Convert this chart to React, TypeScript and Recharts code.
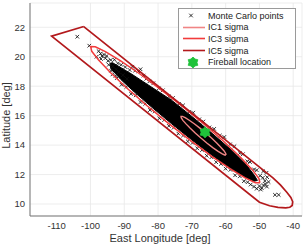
import { ScatterChart, Scatter, XAxis, YAxis, CartesianGrid, Legend, Label } from 'recharts';

const xTicks = [-110, -100, -90, -80, -70, -60, -50, -40];
const yTicks = [10, 12, 14, 16, 18, 20, 22];

// Monte Carlo samples: outliers and the fuzzy fringe of the cloud
const monteCarloPoints: [number, number][] = [
  [-103.9, 21.36], [-100.35, 20.75], [-98.2, 20.0], [-45.4, 10.62], [-44.3, 10.62],
  [-97.6, 20.38], [-97.0, 20.22], [-96.6, 20.05], [-96.0, 20.15], [-95.6, 19.9], [-95.2, 20.05],
  [-94.8, 19.72], [-94.6, 19.45], [-94.0, 19.78], [-93.4, 19.35], [-92.9, 19.8], [-92.4, 19.15],
  [-91.9, 19.55], [-91.6, 18.95], [-90.9, 19.45], [-90.4, 18.75], [-89.7, 19.3], [-89.2, 18.5],
  [-88.4, 19.1], [-93.9, 19.05], [-92.6, 18.7], [-96.9, 19.85],
  [-87.6, 19.32], [-86.8, 19.05], [-85.8, 19.0], [-85.2, 19.15], [-84.3, 18.72], [-83.5, 18.5],
  [-82.6, 18.32], [-81.4, 18.2], [-79.8, 17.85], [-78.6, 17.72], [-76.8, 17.3], [-75.6, 17.2],
  [-73.8, 16.8], [-72.6, 16.7], [-70.8, 16.25], [-69.6, 16.2], [-67.8, 15.75], [-66.6, 15.6],
  [-64.8, 15.2], [-63.4, 15.1], [-61.7, 14.65], [-60.4, 14.55], [-58.7, 14.05], [-57.4, 13.92],
  [-55.8, 13.45], [-54.9, 13.38], [-53.6, 12.9], [-52.8, 12.85], [-51.6, 12.35], [-50.8, 12.3],
  [-49.8, 11.92], [-49.0, 11.78], [-48.4, 11.56], [-47.7, 11.82], [-47.9, 12.12], [-48.9, 12.22],
  [-48.2, 11.35], [-47.8, 11.18], [-48.8, 11.28], [-49.3, 11.08], [-50.0, 11.22], [-50.8, 11.04],
  [-51.6, 11.18], [-52.6, 11.32], [-53.5, 11.48], [-47.3, 11.5], [-49.6, 10.98],
  [-54.6, 11.55], [-55.8, 11.88], [-57.2, 11.95], [-58.6, 12.32], [-60.0, 12.4], [-61.4, 12.72],
  [-62.8, 12.84], [-64.2, 13.18], [-65.6, 13.28], [-67.0, 13.66], [-68.4, 13.78], [-69.8, 14.15],
  [-71.2, 14.25], [-72.6, 14.65], [-74.0, 14.78], [-75.4, 15.18], [-76.8, 15.3], [-78.2, 15.7],
  [-79.6, 15.82], [-81.0, 16.28], [-82.4, 16.38], [-83.8, 16.8], [-85.2, 16.92], [-86.6, 17.38],
  [-88.0, 17.48], [-89.4, 17.95], [-90.8, 18.1], [-92.2, 18.55], [-93.5, 18.8],
];

// outline of the saturated (solid black) part of the point cloud
const monteCarloCore: [number, number][] = [
  [-94.2, 19.55], [-93.5, 19.6], [-88, 18.85], [-82, 17.95], [-76, 17.05], [-70, 15.95],
  [-64, 14.8], [-58, 13.6], [-54, 12.7], [-51.5, 11.95], [-50.6, 11.6],
  [-51.5, 11.55], [-54.5, 11.85], [-58.5, 12.42], [-64, 13.3], [-70, 14.35], [-76, 15.45],
  [-82, 16.6], [-87, 17.6], [-91, 18.45], [-94, 19.2], [-94.2, 19.55],
];

const ic1Sigma: [number, number][] = [
  [-59.9, 13.33], [-59.95, 13.42], [-60.45, 13.6], [-61.37, 13.84], [-62.64, 14.14], [-64.18, 14.48],
  [-65.88, 14.82], [-67.62, 15.15], [-69.29, 15.45], [-70.78, 15.69], [-71.97, 15.87], [-72.8, 15.95],
  [-73.2, 15.95], [-73.15, 15.86], [-72.65, 15.68], [-71.73, 15.44], [-70.46, 15.14], [-68.92, 14.8],
  [-67.23, 14.46], [-65.48, 14.13], [-63.81, 13.83], [-62.33, 13.59], [-61.13, 13.42], [-60.3, 13.33],
  [-59.9, 13.33],
];

const ic3Sigma: [number, number][] = [
  [-49.85, 11.44], [-50.18, 11.75], [-52.2, 12.35], [-55.76, 13.21], [-60.62, 14.26], [-66.46, 15.43],
  [-72.88, 16.65], [-79.44, 17.82], [-85.68, 18.88], [-91.18, 19.74], [-95.58, 20.35], [-98.58, 20.68],
  [-99.95, 20.7], [-99.62, 20.37], [-97.6, 19.77], [-94.04, 18.91], [-89.18, 17.86], [-83.34, 16.69],
  [-76.92, 15.47], [-70.36, 14.3], [-64.12, 13.24], [-58.62, 12.38], [-54.22, 11.77], [-51.22, 11.45],
  [-49.85, 11.44],
];

const ic5Sigma: [number, number][] = [
  [-102, 22.05], [-46, 11.77], [-43.8, 11.3], [-41.9, 10.8], [-40.7, 10.45], [-40.15, 10.15],
  [-40.3, 9.9], [-41, 9.78], [-42.2, 9.74], [-44.5, 9.77], [-47, 9.88], [-50, 10.12],
  [-111.5, 21.4], [-102, 22.05],
];

const fireballLocation: [number, number][] = [[-66.1, 14.87]];

const IC1 = '#f08585';
const IC3 = '#f23b3b';
const IC5 = '#b3191c';
const GREEN = '#1fc23a';
const FONT = '"Liberation Sans", Arial, sans-serif';

const toXY = (pts: [number, number][]) => pts.map(([x, y]) => ({ x, y }));

const noDot = () => <g />;

const cross = (props: any) => {
  const { cx, cy } = props;
  const r = 1.8;
  return (
    <path
      d={`M${cx - r},${cy - r}L${cx + r},${cy + r}M${cx - r},${cy + r}L${cx + r},${cy - r}`}
      stroke="#111"
      strokeWidth={0.85}
      fill="none"
    />
  );
};

const hexagram = (props: any) => {
  const { cx, cy } = props;
  const pts: string[] = [];
  for (let i = 0; i < 12; i++) {
    const r = i % 2 === 0 ? 5.6 : 4.0;
    const a = (Math.PI / 6) * i - Math.PI / 2;
    pts.push(`${cx + r * Math.cos(a)},${cy + r * Math.sin(a)}`);
  }
  return <polygon points={pts.join(' ')} fill={GREEN} stroke={GREEN} strokeWidth={0.8} />;
};

const legendItems = [
  { name: 'Monte Carlo points', kind: 'cross', color: '#000' },
  { name: 'IC1 sigma', kind: 'line', color: IC1 },
  { name: 'IC3 sigma', kind: 'line', color: IC3 },
  { name: 'IC5 sigma', kind: 'line', color: IC5 },
  { name: 'Fireball location', kind: 'star', color: GREEN },
];

const renderLegend = () => (
  <div
    style={{
      border: '1px solid #9a9a9a',
      background: '#fff',
      boxSizing: 'border-box',
      height: 61,
      paddingTop: 1,
      fontFamily: FONT,
      fontSize: 9,
      color: '#222',
    }}
  >
    {legendItems.map((it) => (
      <div key={it.name} style={{ display: 'flex', alignItems: 'center', height: 11.6, whiteSpace: 'nowrap' }}>
        <svg width={29} height={11} style={{ display: 'block' }}>
          {it.kind === 'line' && <line x1={4} x2={26} y1={5.5} y2={5.5} stroke={it.color} strokeWidth={1.6} />}
          {it.kind === 'cross' && cross({ cx: 12, cy: 5.5 })}
          {it.kind === 'star' && hexagram({ cx: 14, cy: 5.5 })}
        </svg>
        <span>{it.name}</span>
      </div>
    ))}
  </div>
);

const yLabel = () => (
  <text
    x={9.5}
    y={115.5}
    transform="rotate(-90, 9.5, 115.5)"
    textAnchor="middle"
    fontFamily={FONT}
    fontSize={11}
    fill="#333"
  >
    Latitude [deg]
  </text>
);

const xLabel = () => (
  <text x={160} y={242} textAnchor="middle" fontFamily={FONT} fontSize={11} fill="#333">
    East Longitude [deg]
  </text>
);

const tickStyle = { fill: '#333', fontSize: 9.5, fontFamily: FONT };

export default function App() {
  return (
    <div style={{ position: 'absolute', left: 0, top: 0, width: 303, height: 246, background: '#fff' }}>
      <ScatterChart width={303} height={246} margin={{ top: 3, right: 1, bottom: 0, left: 0 }}>
        <CartesianGrid stroke="#e8e8e8" strokeWidth={0.8} />
        <XAxis
          type="number"
          dataKey="x"
          domain={[-117.9, -37.4]}
          ticks={xTicks}
          allowDataOverflow
          height={30}
          tickLine={false}
          tickSize={4}
          tickMargin={2}
          axisLine={{ stroke: '#777' }}
          tick={tickStyle}
        >
          <Label content={xLabel} />
        </XAxis>
        <YAxis
          type="number"
          dataKey="y"
          domain={[9.185, 23.65]}
          ticks={yTicks}
          allowDataOverflow
          width={30}
          tickLine={false}
          tickSize={4}
          tickMargin={1}
          axisLine={{ stroke: '#777' }}
          tick={tickStyle}
        >
          <Label content={yLabel} />
        </YAxis>
        <XAxis xAxisId="top" orientation="top" type="number" height={0} tick={false} tickLine={false} axisLine={{ stroke: '#777' }} />
        <YAxis yAxisId="right" orientation="right" type="number" width={0} tick={false} tickLine={false} axisLine={{ stroke: '#777' }} />
        <Scatter
          name="core"
          data={toXY(monteCarloCore)}
          shape={noDot}
          line={{ stroke: '#000', strokeWidth: 1, fill: '#000' }}
          lineType="joint"
          legendType="none"
          isAnimationActive={false}
        />
        <Scatter name="Monte Carlo points" data={toXY(monteCarloPoints)} shape={cross} isAnimationActive={false} />
        <Scatter
          name="IC1 sigma"
          data={toXY(ic1Sigma)}
          shape={noDot}
          line={{ stroke: IC1, strokeWidth: 1.4 }}
          lineType="joint"
          isAnimationActive={false}
        />
        <Scatter
          name="IC3 sigma"
          data={toXY(ic3Sigma)}
          shape={noDot}
          line={{ stroke: IC3, strokeWidth: 1.5 }}
          lineType="joint"
          isAnimationActive={false}
        />
        <Scatter
          name="IC5 sigma"
          data={toXY(ic5Sigma)}
          shape={noDot}
          line={{ stroke: IC5, strokeWidth: 1.7 }}
          lineType="joint"
          isAnimationActive={false}
        />
        <Scatter name="Fireball location" data={toXY(fireballLocation)} shape={hexagram} isAnimationActive={false} />
        <Legend
          layout="horizontal"
          verticalAlign="middle"
          align="center"
          content={renderLegend}
          wrapperStyle={{ left: 178, top: 8, width: 118, height: 61 }}
        />
      </ScatterChart>
    </div>
  );
}
